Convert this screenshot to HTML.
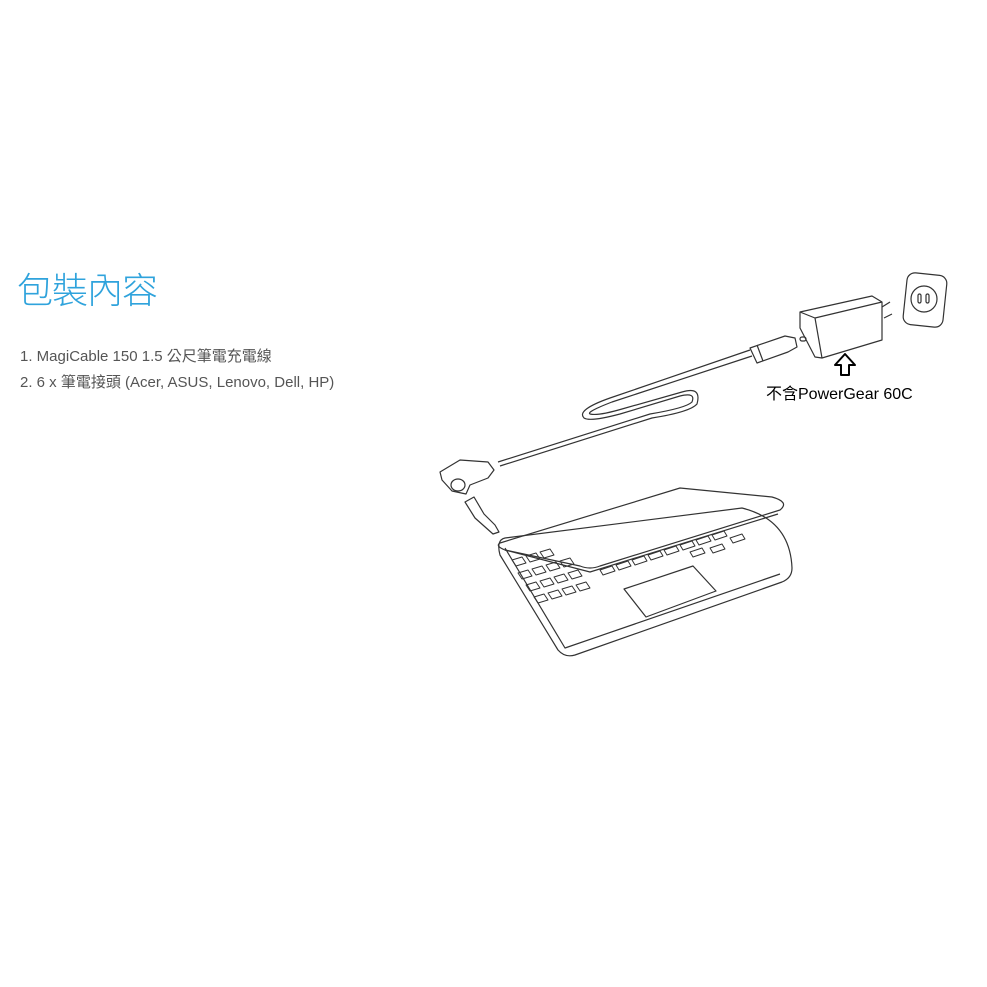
<!DOCTYPE html>
<html><head><meta charset="utf-8"><style>
html,body{margin:0;padding:0;background:#fff;width:987px;height:987px;overflow:hidden;position:relative}
.t{position:absolute;left:17px;top:262px;font:300 36px "Liberation Sans","Noto Sans CJK TC",sans-serif;color:#2fa3dc;white-space:nowrap;letter-spacing:-1px}
.l{position:absolute;left:20px;font:15px "Liberation Sans","Noto Sans CJK TC",sans-serif;color:#555;white-space:nowrap}
.n{position:absolute;left:766px;top:380px;font:16px "Liberation Sans","Noto Sans CJK TC",sans-serif;color:#000;white-space:nowrap}
svg{position:absolute;left:0;top:0}
</style></head><body>
<div class="t">包裝內容</div>
<div class="l" style="top:345px">1. MagiCable 150 1.5 公尺筆電充電線</div>
<div class="l" style="top:371px">2. 6 x 筆電接頭 (Acer, ASUS, Lenovo, Dell, HP)</div>
<div class="n">不含PowerGear 60C</div>
<svg width="987" height="987" fill="none" stroke="#333" stroke-width="1.2" stroke-linejoin="round">
<rect x="905" y="274" width="40" height="52" rx="8" transform="rotate(6 925 300)"/>
<circle cx="924" cy="299" r="13"/>
<rect x="918" y="294" width="3" height="9" rx="1.5"/><rect x="926" y="294" width="3" height="9" rx="1.5"/>
<path d="M800 312 L872 296 L882 302 L882 340 L822 358 L815 357 L800 328 Z"/>
<path d="M800 312 L815 318 L822 358 M815 318 L882 302"/>
<path d="M882 307 L890 302 M884 318 L892 314"/>
<rect x="800" y="337" width="6" height="4" rx="2"/>
<path d="M841 375 L841 365 L835 365 L845 354 L855 365 L849 365 L849 375 Z" stroke="#000" stroke-width="2"/>
<path d="M750 348 L785 336 L795 338 L797 347 L788 352 L757 363 Z"/>
<path d="M757 345 L763 361"/>
<path d="M750 350 L610 398 Q576 410 584 418 Q590 422 620 414 L680 396 Q696 392 692 402 Q686 408 650 414 L498 462"/>
<path d="M752 356 L612 402 Q586 412 590 414 Q598 416 622 409 L682 392 Q702 386 697 404 Q690 412 652 418 L500 466"/>
<path d="M440 472 L460 460 L488 462 L494 470 L488 478 L470 485 L466 494 L452 491 L442 480 Z"/>
<ellipse cx="458" cy="485" rx="7" ry="6"/>
<path d="M465 502 L474 497 L484 514 L495 525 L499 532 L493 534 L484 526 L475 518 Z"/>
<path d="M505 538 L742 508 Q790 520 792 568 Q792 578 782 582 L575 655 Q565 658 558 650 L500 555 Q496 540 505 538 Z"/>
<path d="M505 548 L565 648 L780 574"/>
<path d="M500 543 L680 488 L772 497 Q790 502 780 510 L600 566 Q590 570 580 566 L505 550 Q495 546 500 543 Z"/>
<path d="M505 550 L590 572 L778 514"/>
<g stroke-width="1">
<path d="M512 560 l10 -3 l4 6 l-10 3 Z M526 556 l10 -3 l4 6 l-10 3 Z M540 552 l10 -3 l4 6 l-10 3 Z"/>
<path d="M518 573 l10 -3 l4 6 l-10 3 Z M532 569 l10 -3 l4 6 l-10 3 Z M546 565 l10 -3 l4 6 l-10 3 Z M560 561 l10 -3 l4 6 l-10 3Z"/>
<path d="M526 585 l10 -3 l4 6 l-10 3 Z M540 581 l10 -3 l4 6 l-10 3 Z M554 577 l10 -3 l4 6 l-10 3 Z M568 573 l10 -3 l4 6 l-10 3Z"/>
<path d="M534 597 l10 -3 l4 6 l-10 3 Z M548 593 l10 -3 l4 6 l-10 3 Z M562 589 l10 -3 l4 6 l-10 3 Z M576 585 l10 -3 l4 6 l-10 3Z"/>
<path d="M600 570 l12 -4 l3 5 l-12 4Z M616 565 l12 -4 l3 5 l-12 4Z M632 560 l12 -4 l3 5 l-12 4Z M648 555 l12 -4 l3 5 l-12 4Z M664 550 l12 -4 l3 5 l-12 4Z M680 545 l12 -4 l3 5 l-12 4Z M696 540 l12 -4 l3 5 l-12 4Z M712 535 l12 -4 l3 5 l-12 4Z M730 538 l12 -4 l3 5 l-12 4Z"/>
<path d="M710 548 l12 -4 l3 5 l-12 4Z M690 552 l12 -4 l3 5 l-12 4Z"/>
</g>
<path d="M624 589 L693 566 L716 591 L646 617 Z"/>
</svg>
</body></html>
